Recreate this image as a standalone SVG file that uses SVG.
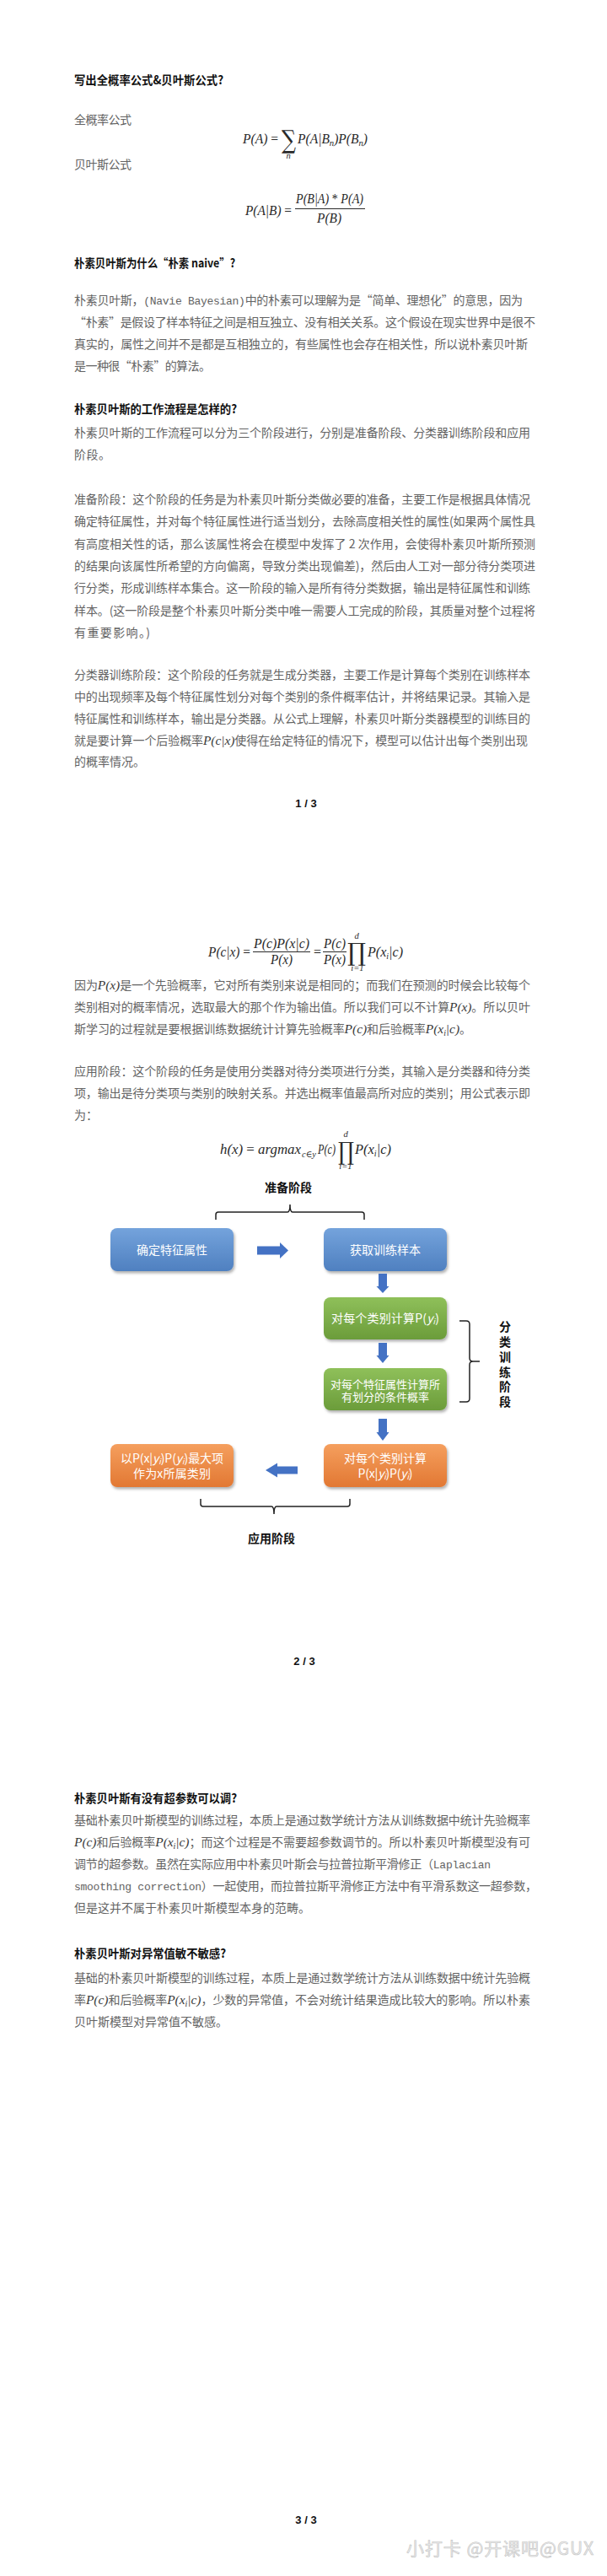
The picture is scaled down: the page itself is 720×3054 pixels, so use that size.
<svg xmlns="http://www.w3.org/2000/svg" width="720" height="3054" viewBox="0 0 720 3054">
<style>
.b{font-family:"Noto Sans CJK SC","Noto Sans",sans-serif;font-size:14px;fill:#636363}
.h{font-family:"Noto Sans CJK SC","Noto Sans",sans-serif;font-size:14px;font-weight:bold;fill:#111}
.m{font-family:"Liberation Serif","DejaVu Serif",serif;font-style:italic;font-size:15.5px;fill:#3a3a3a}
.mono{font-family:"Liberation Mono","DejaVu Sans Mono",monospace;font-size:13px}
.f{font-family:"Liberation Serif","DejaVu Serif",serif;font-style:italic;font-size:16px;fill:#2a2a2a}
.up{font-style:normal}
.op{font-family:"DejaVu Serif","Liberation Serif",serif;fill:#2a2a2a}
.sm{font-family:"Liberation Serif","DejaVu Serif",serif;font-style:italic;font-size:10.5px;fill:#2a2a2a}
.bt{font-family:"Noto Sans CJK SC","Noto Sans",sans-serif;font-size:14px;fill:#fff;text-anchor:middle}
.bt2{font-family:"Noto Sans CJK SC","Noto Sans",sans-serif;font-size:13px;fill:#fff;text-anchor:middle}
.lab{font-family:"Noto Sans CJK SC","Noto Sans",sans-serif;font-size:14px;font-weight:bold;fill:#111;text-anchor:middle}
.pg{font-family:"Liberation Sans","Noto Sans",sans-serif;font-size:13px;font-weight:bold;fill:#111;text-anchor:middle}
.fl{stroke:#2a2a2a;stroke-width:1}
.arr{fill:#4472c4}
.br{fill:none;stroke:#222;stroke-width:1.5}
</style>
<defs>
<linearGradient id="gBlue" x1="0" y1="0" x2="0" y2="1"><stop offset="0" stop-color="#74a3dc"/><stop offset="1" stop-color="#4f80c0"/></linearGradient>
<linearGradient id="gGreen" x1="0" y1="0" x2="0" y2="1"><stop offset="0" stop-color="#8fc05a"/><stop offset="1" stop-color="#6b9c3a"/></linearGradient>
<linearGradient id="gOrange" x1="0" y1="0" x2="0" y2="1"><stop offset="0" stop-color="#f59f5e"/><stop offset="1" stop-color="#e27833"/></linearGradient>
<filter id="sh" x="-10%" y="-10%" width="125%" height="140%"><feDropShadow dx="1.5" dy="2.5" stdDeviation="1.8" flood-color="#000" flood-opacity="0.3"/></filter>
</defs>
<rect width="720" height="3054" fill="#fff"/>

<!-- Page 1 -->
<text class="h" x="88" y="100" textLength="177" lengthAdjust="spacingAndGlyphs">写出全概率公式&amp;贝叶斯公式?</text>
<text class="b" x="88" y="147" textLength="68">全概率公式</text>
<g id="formula-total">
<text class="f" x="288" y="170" textLength="42" lengthAdjust="spacingAndGlyphs">P(A) <tspan class="up">=</tspan></text>
<text class="op" x="334" y="176" font-size="30" textLength="17" lengthAdjust="spacingAndGlyphs">∑</text>
<text class="sm" x="342" y="188" text-anchor="middle">n</text>
<text class="f" x="353" y="170" textLength="83" lengthAdjust="spacingAndGlyphs">P(A|B<tspan font-size="11" dy="3">n</tspan><tspan dy="-3">)P(B</tspan><tspan font-size="11" dy="3">n</tspan><tspan dy="-3">)</tspan></text>
</g>
<text class="b" x="88" y="200" textLength="68">贝叶斯公式</text>
<g id="formula-bayes">
<text class="f" x="291" y="255" textLength="55" lengthAdjust="spacingAndGlyphs">P(A|B) <tspan class="up">=</tspan></text>
<text class="f" x="351" y="241" font-size="14.5" textLength="80" lengthAdjust="spacingAndGlyphs">P(B|A) <tspan class="up">*</tspan> P(A)</text>
<line class="fl" x1="350" y1="247.5" x2="433" y2="247.5"/>
<text class="f" x="376" y="264" font-size="14.5" textLength="29" lengthAdjust="spacingAndGlyphs">P(B)</text>
</g>

<text class="h" x="88" y="317" textLength="191" lengthAdjust="spacingAndGlyphs">朴素贝叶斯为什么“朴素 naive”?</text>
<text class="b" x="88" y="361" textLength="532">朴素贝叶斯，<tspan class="mono">(Navie Bayesian)</tspan>中的朴素可以理解为是“简单、理想化”的意思，因为</text>
<text class="b" x="88" y="387" textLength="547">“朴素”是假设了样本特征之间是相互独立、没有相关关系。这个假设在现实世界中是很不</text>
<text class="b" x="88" y="413" textLength="538">真实的，属性之间并不是都是互相独立的，有些属性也会存在相关性，所以说朴素贝叶斯</text>
<text class="b" x="88" y="439" textLength="162">是一种很“朴素”的算法。</text>

<text class="h" x="88" y="490" textLength="193" lengthAdjust="spacingAndGlyphs">朴素贝叶斯的工作流程是怎样的?</text>
<text class="b" x="88" y="518" textLength="541">朴素贝叶斯的工作流程可以分为三个阶段进行，分别是准备阶段、分类器训练阶段和应用</text>
<text class="b" x="88" y="544" textLength="43">阶段。</text>

<text class="b" x="88" y="597" textLength="541">准备阶段：这个阶段的任务是为朴素贝叶斯分类做必要的准备，主要工作是根据具体情况</text>
<text class="b" x="88" y="623" textLength="547">确定特征属性，并对每个特征属性进行适当划分，去除高度相关性的属性(如果两个属性具</text>
<text class="b" x="88" y="650" textLength="547">有高度相关性的话，那么该属性将会在模型中发挥了 2 次作用，会使得朴素贝叶斯所预测</text>
<text class="b" x="88" y="676" textLength="547">的结果向该属性所希望的方向偏离，导致分类出现偏差)，然后由人工对一部分待分类项进</text>
<text class="b" x="88" y="702" textLength="541">行分类，形成训练样本集合。这一阶段的输入是所有待分类数据，输出是特征属性和训练</text>
<text class="b" x="88" y="729" textLength="547">样本。(这一阶段是整个朴素贝叶斯分类中唯一需要人工完成的阶段，其质量对整个过程将</text>
<text class="b" x="88" y="755" textLength="90">有重要影响。)</text>

<text class="b" x="88" y="805" textLength="541">分类器训练阶段：这个阶段的任务就是生成分类器，主要工作是计算每个类别在训练样本</text>
<text class="b" x="88" y="831" textLength="541">中的出现频率及每个特征属性划分对每个类别的条件概率估计，并将结果记录。其输入是</text>
<text class="b" x="88" y="857" textLength="541">特征属性和训练样本，输出是分类器。从公式上理解，朴素贝叶斯分类器模型的训练目的</text>
<text class="b" x="88" y="883" textLength="538">就是要计算一个后验概率<tspan class="m">P(c|x)</tspan>使得在给定特征的情况下，模型可以估计出每个类别出现</text>
<text class="b" x="88" y="908" textLength="84">的概率情况。</text>

<text class="pg" x="363" y="957">1 / 3</text>

<!-- Page 2 -->
<g id="formula-posterior">
<text class="f" x="247" y="1134" textLength="50" lengthAdjust="spacingAndGlyphs" font-size="15.5">P(c|x) <tspan class="up">=</tspan></text>
<text class="f" x="301" y="1124" textLength="66" lengthAdjust="spacingAndGlyphs" font-size="15">P(c)P(x|c)</text>
<line class="fl" x1="300" y1="1128.5" x2="368" y2="1128.5"/>
<text class="f" x="321" y="1143" textLength="26" lengthAdjust="spacingAndGlyphs" font-size="15">P(x)</text>
<text class="f up" x="372" y="1134" font-size="15.5">=</text>
<text class="f" x="384" y="1124" textLength="26" lengthAdjust="spacingAndGlyphs" font-size="15">P(c)</text>
<line class="fl" x1="383" y1="1128.5" x2="411" y2="1128.5"/>
<text class="f" x="384" y="1143" textLength="26" lengthAdjust="spacingAndGlyphs" font-size="15">P(x)</text>
<text class="op" x="412" y="1139" font-size="29" textLength="22" lengthAdjust="spacingAndGlyphs">∏</text>
<text class="sm" x="423" y="1113" text-anchor="middle">d</text>
<text class="sm" x="424" y="1151" text-anchor="middle" font-style="normal">i=1</text>
<text class="f" x="436" y="1134" textLength="42" lengthAdjust="spacingAndGlyphs" font-size="15.5">P(x<tspan font-size="10" dy="3">i</tspan><tspan dy="-3">|c)</tspan></text>
</g>
<text class="b" x="88" y="1173" textLength="541">因为<tspan class="m">P(x)</tspan>是一个先验概率，它对所有类别来说是相同的；而我们在预测的时候会比较每个</text>
<text class="b" x="88" y="1199" textLength="541">类别相对的概率情况，选取最大的那个作为输出值。所以我们可以不计算<tspan class="m">P(x)</tspan>。所以贝叶</text>
<text class="b" x="88" y="1225" textLength="471">斯学习的过程就是要根据训练数据统计计算先验概率<tspan class="m">P(c)</tspan>和后验概率<tspan class="m">P(x<tspan font-size="10" dy="3">i</tspan><tspan dy="-3">|c)</tspan></tspan>。</text>

<text class="b" x="88" y="1275" textLength="541">应用阶段：这个阶段的任务是使用分类器对待分类项进行分类，其输入是分类器和待分类</text>
<text class="b" x="88" y="1301" textLength="541">项，输出是待分类项与类别的映射关系。并选出概率值最高所对应的类别；用公式表示即</text>
<text class="b" x="88" y="1327" textLength="28">为：</text>
<g id="formula-decision">
<text class="f" x="261" y="1368" textLength="96" lengthAdjust="spacingAndGlyphs" font-size="15.5">h(x) <tspan class="up">=</tspan> argmax</text>
<text class="sm" x="358" y="1372" textLength="17" lengthAdjust="spacingAndGlyphs">c∈y</text>
<text class="f" x="377" y="1368" textLength="21" lengthAdjust="spacingAndGlyphs" font-size="15.5">P(c)</text>
<text class="op" x="401" y="1375" font-size="29" textLength="19" lengthAdjust="spacingAndGlyphs">∏</text>
<text class="sm" x="410" y="1348" text-anchor="middle">d</text>
<text class="sm" x="410" y="1386" text-anchor="middle" font-style="normal">i=1</text>
<text class="f" x="421" y="1368" textLength="43" lengthAdjust="spacingAndGlyphs" font-size="15.5">P(x<tspan font-size="10" dy="3">i</tspan><tspan dy="-3">|c)</tspan></text>
</g>

<!-- Flowchart -->
<g id="label-prep"><text class="lab" x="342" y="1413">准备阶段</text></g>
<g id="label-train">
<text class="lab" x="599" y="1578">分</text>
<text class="lab" x="599" y="1596">类</text>
<text class="lab" x="599" y="1614">训</text>
<text class="lab" x="599" y="1632">练</text>
<text class="lab" x="599" y="1649">阶</text>
<text class="lab" x="599" y="1667">段</text>
</g>
<g id="label-apply"><text class="lab" x="322" y="1829">应用阶段</text></g>

<g id="node-feature">
<rect x="131" y="1456" width="146" height="51" rx="8" fill="url(#gBlue)" filter="url(#sh)"/>
<text class="bt" x="204" y="1487">确定特征属性</text>
</g>
<g id="node-sample">
<rect x="384" y="1456" width="146" height="51" rx="8" fill="url(#gBlue)" filter="url(#sh)"/>
<text class="bt" x="457" y="1487">获取训练样本</text>
</g>
<g id="node-prior">
<rect x="384" y="1538" width="146" height="50" rx="8" fill="url(#gGreen)" filter="url(#sh)"/>
<text class="bt" x="457" y="1568" textLength="128">对每个类别计算P(<tspan font-style="italic">y</tspan><tspan font-size="9" dy="2" font-style="italic">i</tspan><tspan dy="-2">)</tspan></text>
</g>
<g id="node-cond">
<rect x="384" y="1622" width="146" height="50" rx="8" fill="url(#gGreen)" filter="url(#sh)"/>
<text class="bt2" x="457" y="1646">对每个特征属性计算所</text>
<text class="bt2" x="457" y="1661">有划分的条件概率</text>
</g>
<g id="node-joint">
<rect x="384" y="1712" width="146" height="51" rx="8" fill="url(#gOrange)" filter="url(#sh)"/>
<text class="bt" x="457" y="1734">对每个类别计算</text>
<text class="bt" x="457" y="1752" textLength="65">P(x|<tspan font-style="italic">y</tspan><tspan font-size="9" dy="2" font-style="italic">i</tspan><tspan dy="-2">)P(</tspan><tspan font-style="italic">y</tspan><tspan font-size="9" dy="2" font-style="italic">i</tspan><tspan dy="-2">)</tspan></text>
</g>
<g id="node-result">
<rect x="131" y="1712" width="146" height="51" rx="8" fill="url(#gOrange)" filter="url(#sh)"/>
<text class="bt" x="204" y="1734" textLength="122">以P(x|<tspan font-style="italic">y</tspan><tspan font-size="9" dy="2" font-style="italic">i</tspan><tspan dy="-2">)P(</tspan><tspan font-style="italic">y</tspan><tspan font-size="9" dy="2" font-style="italic">i</tspan><tspan dy="-2">)最大项</tspan></text>
<text class="bt" x="204" y="1752" textLength="92">作为x所属类别</text>
</g>

<g id="connectors">
<polygon class="arr" points="305,1477.5 332,1477.5 332,1473 342,1482.5 332,1492 332,1487.5 305,1487.5"/>
<polygon class="arr" points="449,1510 459,1510 459,1525 461.5,1525 454,1533 446.5,1525 449,1525"/>
<polygon class="arr" points="449,1592 459,1592 459,1607 461.5,1607 454,1616 446.5,1607 449,1607"/>
<polygon class="arr" points="449,1682 459,1682 459,1698 461.5,1698 454,1708 446.5,1698 449,1698"/>
<polygon class="arr" points="353,1738.5 329,1738.5 329,1734.5 315,1743 329,1751.5 329,1747.5 353,1747.5"/>
<path class="br" d="M256,1446 V1440 Q256,1437 259,1437 H341 Q344,1437 344,1428 Q344,1437 347,1437 H429 Q432,1437 432,1440 V1446"/>
<path class="br" d="M545,1566 H553 Q557,1566 557,1570 V1610 Q557,1614 561,1614 H569 M561,1614 Q557,1614 557,1618 V1658 Q557,1662 553,1662 H545"/>
<path class="br" d="M238,1777 V1783 Q238,1786 241,1786 H322 Q325,1786 325,1795 Q325,1786 328,1786 H412 Q415,1786 415,1783 V1777"/>
</g>

<text class="pg" x="361" y="1974">2 / 3</text>

<!-- Page 3 -->
<text class="h" x="88" y="2137" textLength="193" lengthAdjust="spacingAndGlyphs">朴素贝叶斯有没有超参数可以调?</text>
<text class="b" x="88" y="2163" textLength="541">基础朴素贝叶斯模型的训练过程，本质上是通过数学统计方法从训练数据中统计先验概率</text>
<text class="b" x="88" y="2189" textLength="541"><tspan class="m">P(c)</tspan>和后验概率<tspan class="m">P(x<tspan font-size="10" dy="3">i</tspan><tspan dy="-3">|c)</tspan></tspan>；而这个过程是不需要超参数调节的。所以朴素贝叶斯模型没有可</text>
<text class="b" x="88" y="2215" textLength="494">调节的超参数。虽然在实际应用中朴素贝叶斯会与拉普拉斯平滑修正（<tspan class="mono">Laplacian</tspan></text>
<text class="b" x="88" y="2241" textLength="549"><tspan class="mono">smoothing correction</tspan>）一起使用，而拉普拉斯平滑修正方法中有平滑系数这一超参数，</text>
<text class="b" x="88" y="2267" textLength="280">但是这并不属于朴素贝叶斯模型本身的范畴。</text>

<text class="h" x="88" y="2321" textLength="180" lengthAdjust="spacingAndGlyphs">朴素贝叶斯对异常值敏不敏感?</text>
<text class="b" x="88" y="2350" textLength="541">基础的朴素贝叶斯模型的训练过程，本质上是通过数学统计方法从训练数据中统计先验概</text>
<text class="b" x="88" y="2376" textLength="541">率<tspan class="m">P(c)</tspan>和后验概率<tspan class="m">P(x<tspan font-size="10" dy="3">i</tspan><tspan dy="-3">|c)</tspan></tspan>，少数的异常值，不会对统计结果造成比较大的影响。所以朴素</text>
<text class="b" x="88" y="2402" textLength="182">贝叶斯模型对异常值不敏感。</text>

<text class="pg" x="363" y="2992">3 / 3</text>
<text x="482" y="3029" textLength="222" font-family="'Noto Sans CJK SC','Noto Sans',sans-serif" font-size="21" fill="#ececec" stroke="#c4c4c4" stroke-width="0.6">小打卡 @开课吧@GUX</text>
</svg>
